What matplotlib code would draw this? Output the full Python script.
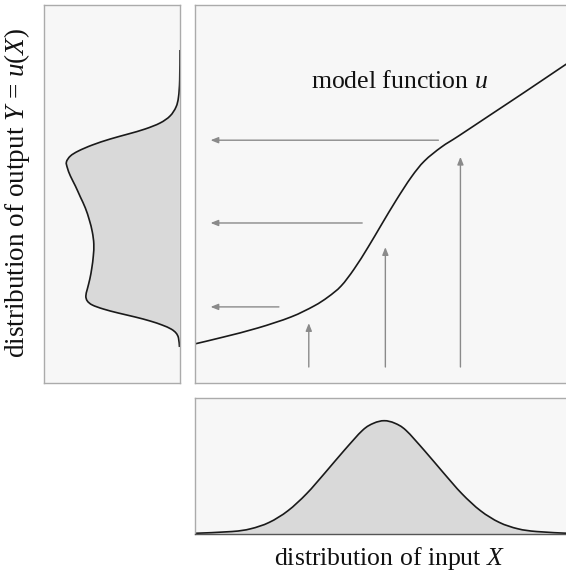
import matplotlib
matplotlib.use("Agg")
import matplotlib.pyplot as plt
import numpy as np
from matplotlib.path import Path
from matplotlib.patches import PathPatch

plt.rcParams['font.family'] = ['Liberation Serif', 'DejaVu Serif']
plt.rcParams['mathtext.fontset'] = 'custom'
plt.rcParams['mathtext.rm'] = 'Liberation Serif'
plt.rcParams['mathtext.it'] = 'Liberation Serif:italic'

W, H = 566, 571

# ---- data (axes run 0..100) ----
# model function u (read in pixels, converted to 0..100)
u_px = [194, 223, 257, 290, 313, 327, 340, 353, 367, 380, 395, 410, 423, 440, 457, 490, 523, 557, 566]
u_py = [344, 337, 328, 317, 306, 297, 286, 269, 247, 225, 200, 177, 161, 147, 136, 114, 92, 69, 63]
u_x = [(p - 194) / 372 * 100 for p in u_px]
u_y = [(382.5 - p) / 378 * 100 for p in u_py]

# input density (bottom panel)
in_x = [0, 10, 15, 20, 25, 30, 35, 40, 45, 48, 50.8, 53.6, 56.6, 61.6, 66.6, 71.6, 76.6, 81.6, 86.6, 91.6, 100]
in_d = [0.5, 1.8, 3.8, 8.5, 17, 29.5, 45, 61, 76, 81.2, 83, 81.2, 76, 61, 45, 29.5, 17, 8.5, 3.8, 1.8, 0.5]

# output density (left panel), y shared with the main panel (read in pixels)
out_px = [180, 179.7, 178.5, 176, 170, 160, 145, 128, 110, 92, 78, 70, 66, 67, 70, 75, 80, 85, 89, 92,
          93.5, 93, 91.5, 89.5, 87, 85.5, 87, 92, 103, 118, 135, 150, 162, 171, 176, 178.5, 179.5]
out_py = [50, 80, 97, 107, 116, 123, 129, 134, 139, 145, 151, 156, 162, 168, 176, 186, 197, 208, 220, 232,
          244, 256, 268, 279, 289, 296, 301, 305, 309, 313, 317, 321, 325, 329, 333, 338, 347]
out_y = [(382.5 - p) / 378 * 100 for p in out_py]
out_d = [(179.5 - p) / 136.5 * 100 for p in out_px]

# arrows
in_vals = [30.6, 51.1, 71.2]
up_tips = [15.7, 35.8, 59.7]
up_base = 4.1
out_vals = [20.0, 42.2, 64.1]
left_tails = [22.6, 44.9, 65.3]
left_tip = 4.3


def smooth_path(xs, ys, close_to=None, horizontal=True):
    P = np.column_stack([xs, ys]).astype(float)
    n = len(P)
    verts = [P[0]]
    codes = [Path.MOVETO]
    for i in range(n - 1):
        p0 = P[i - 1] if i > 0 else P[i]
        p1 = P[i]
        p2 = P[i + 1]
        p3 = P[i + 2] if i + 2 < n else P[i + 1]
        c1 = p1 + (p2 - p0) / 6.0
        c2 = p2 - (p3 - p1) / 6.0
        verts += [c1, c2, p2]
        codes += [Path.CURVE4] * 3
    line = Path(verts, codes)
    if close_to is None:
        return line, None
    v2 = list(verts)
    c2_ = list(codes)
    if horizontal:
        v2 += [np.array([P[-1, 0], close_to]), np.array([P[0, 0], close_to]), P[0]]
    else:
        v2 += [np.array([close_to, P[-1, 1]]), np.array([close_to, P[0, 1]]), P[0]]
    c2_ += [Path.LINETO, Path.LINETO, Path.CLOSEPOLY]
    return line, Path(v2, c2_)


fig = plt.figure(figsize=(W / 100, H / 100), dpi=100)
fig.patch.set_facecolor('white')

bg = '#f7f7f7'
spine_c = '#ababab'
line_c = '#1a1a1a'
fill_c = '#d9d9d9'
arrow_c = '#8a8a8a'


def style(ax):
    ax.set_facecolor(bg)
    ax.set_xticks([])
    ax.set_yticks([])
    for s in ax.spines.values():
        s.set_color(spine_c)
        s.set_linewidth(1.0)


def box(x0, y0, x1, y1):
    return [x0 / W, 1 - y1 / H, (x1 - x0) / W, (y1 - y0) / H]


ax_main = fig.add_axes(box(194.5, 4.5, 568, 382.5))
ax_left = fig.add_axes(box(43.5, 4.5, 179.5, 382.5))
ax_bot = fig.add_axes(box(194.5, 397.5, 568, 534))
for a in (ax_main, ax_left, ax_bot):
    style(a)

# main
ax_main.set_xlim(0, 100)
ax_main.set_ylim(0, 100)
ln, _ = smooth_path(u_x, u_y)
ax_main.add_patch(PathPatch(ln, facecolor='none', edgecolor=line_c, lw=1.2))
astyle = '-|>,head_length=0.45,head_width=0.18'
for xv, tip in zip(in_vals, up_tips):
    ax_main.annotate('', xy=(xv, tip), xytext=(xv, up_base),
                     arrowprops=dict(arrowstyle=astyle, color=arrow_c, lw=1.0, shrinkA=0, shrinkB=0))
for yv, tail in zip(out_vals, left_tails):
    ax_main.annotate('', xy=(left_tip, yv), xytext=(tail, yv),
                     arrowprops=dict(arrowstyle=astyle, color=arrow_c, lw=1.0, shrinkA=0, shrinkB=0))
ax_main.text(54.8, 79.5, 'model function $u$', ha='center', va='center', fontsize=18.5, color='#111111')

# left (output density)
ax_left.set_xlim(100, 0)
ax_left.set_ylim(0, 100)
ln, fl = smooth_path(out_d, out_y, close_to=0, horizontal=False)
ax_left.add_patch(PathPatch(fl, facecolor=fill_c, edgecolor='none'))
ax_left.add_patch(PathPatch(ln, facecolor='none', edgecolor=line_c, lw=1.2))

# bottom (input density)
ax_bot.set_xlim(0, 100)
ax_bot.set_ylim(0, 100)
ln, fl = smooth_path(in_x, in_d, close_to=0, horizontal=True)
ax_bot.add_patch(PathPatch(fl, facecolor=fill_c, edgecolor='none'))
ax_bot.add_patch(PathPatch(ln, facecolor='none', edgecolor=line_c, lw=1.2))
ax_bot.spines['bottom'].set_color('#555555')
ax_main.spines['right'].set_visible(False)
ax_bot.spines['right'].set_visible(False)

fig.text(390 / W, 1 - 565 / H, 'distribution of input $X$', ha='center', va='baseline',
         fontsize=18.5, color='#111111')
fig.text(17 / W, 1 - 193 / H, 'distribution of output $Y$ = $u$($X$)', ha='center', va='center',
         rotation=90, fontsize=19.5, color='#111111')

fig.savefig('out.png', dpi=100)
